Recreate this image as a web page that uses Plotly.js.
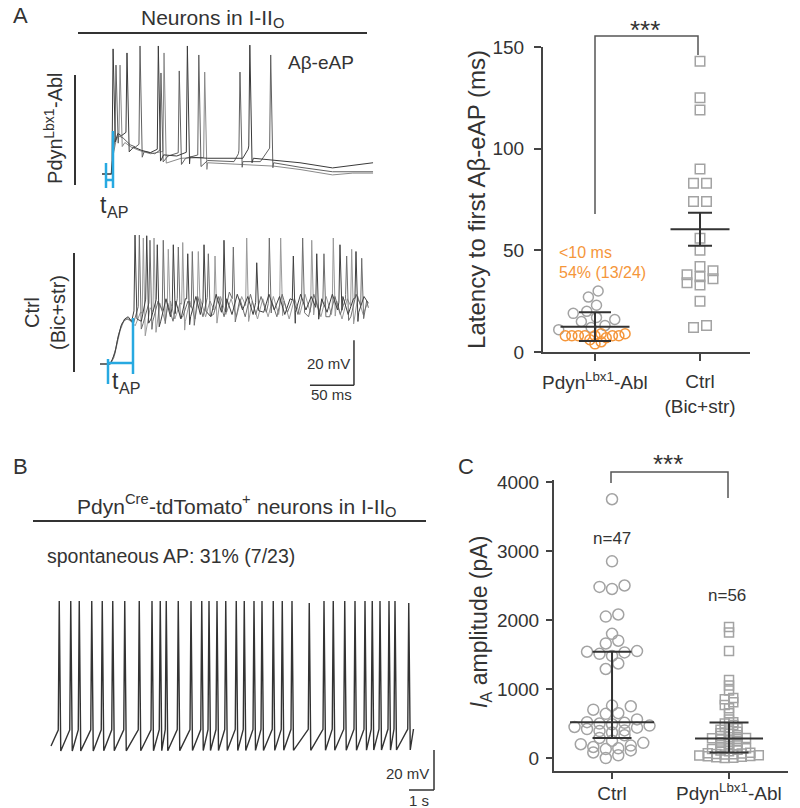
<!DOCTYPE html>
<html>
<head>
<meta charset="utf-8">
<script src="https://cdn.plot.ly/plotly-3.0.1.min.js"></script>
<style>html,body{margin:0;padding:0;background:#fff}#chart{width:800px;height:808px}</style>
</head>
<body>
<div id="chart"></div>
<script>
// ================= DATA =================
// Panel A (right): latency to first Aβ-eAP (ms)
const latencyCategories = ['Pdyn|Lbx1|-Abl', 'Ctrl<br>(Bic+str)'];
const latencyPdynGray = [30, 27, 23, 20, 19, 17, 16, 15, 13, 12, 11];
const latencyPdynOrange = [9, 9, 8, 8, 8, 8, 8, 8, 8, 7, 6, 5, 4];
const latencyCtrl = [143, 125, 119, 90, 83, 83, 74, 74, 56, 50, 42, 40, 38, 36, 33, 34, 37, 25, 12, 13];
const latencyErr = [7.1, 8.1];
const latencyTicks = [0, 50, 100, 150];

// Panel C: I_A amplitude (pA)
const iaCategories = ['Ctrl', 'Pdyn|Lbx1|-Abl'];
const iaCtrl = [3750, 2850, 2500, 2480, 2450, 2080, 2050, 1800, 1700, 1660, 1550, 1540, 1530, 1510, 1480, 1370, 1290,
  760, 750, 700, 650, 640, 560, 520, 510, 500, 490, 470, 450, 440, 420, 400, 390, 370, 330,
  290, 250, 220, 200, 180, 160, 140, 130, 110, 80, 40, 0];
const iaPdyn = [1900, 1820, 1550, 1130, 1050, 980, 870, 850, 810, 770, 720, 650,
  560, 520, 500, 480, 450, 430, 410, 400, 380, 360, 350, 330, 320, 300, 290, 285,
  280, 270, 255, 240, 220, 200, 180, 160, 150, 140, 130, 120, 110, 100,
  75, 70, 65, 60, 55, 50, 40, 35, 30, 25, 20, 10, 5, 0];
const iaTicks = [0, 1000, 2000, 3000, 4000];
const iaN = ['n=47', 'n=56'];

// Panel A traces: Pdyn(Lbx1)-Abl, three sweeps  [ms, mV]
const pdynSweep1Base = [[0,-65],[10.5,-65],[12,-58],[14,-48],[18,-47],[22,-48],[26,-47],[30,-52],[36,-53],[45,-54.5],[55,-55.5],[70,-56.5],[85,-57],[100,-57.5],[120,-58],[150,-58],[160,-58],[166,-54],[172,-58],[195,-59],[225,-60],[262,-62.3],[285,-61],[308,-60]];
const pdynSweep1Spikes = [[12.6,-9.4],[28.4,-11.2],[64,-8.1],[97,-8.1],[168,-7.7]];
const pdynSweep2Base = [[0,-65],[11,-65],[12.5,-57],[15,-50],[19,-48],[24,-49],[32,-52],[38,-53],[48,-55],[60,-56],[75,-57],[95,-58],[120,-59],[150,-59.5],[155,-56],[160,-59.5],[180,-59.5],[189,-54],[195,-60],[225,-62],[262,-64],[285,-64],[308,-64]];
const pdynSweep2Spikes = [[15.9,-16.6],[43.2,-8.1],[67,-20.1],[87.8,-19.2],[110,-12.1],[156.8,-19.7],[191.7,-12.1]];
const pdynSweep3Base = [[0,-65],[11.5,-65],[13,-56],[16,-50],[21,-49],[26,-51],[33,-53],[42,-54.5],[55,-56],[70,-57],[90,-58],[120,-60],[150,-60.5],[195,-61.5],[225,-63],[262,-65.4],[285,-64.6],[308,-64.6]];
const pdynSweep3Spikes = [[20.5,-16.6],[70.5,-11.2],[116.7,-19.7]];

// Panel A traces: Ctrl (Bic+str), three sweeps  [ms, mV]
const ctrlSweep1Base = [[0,-65],[11,-65],[14,-63],[17,-60],[20,-54],[24,-48],[28,-45],[32,-44],[36,-46],[42,-40],[47,-46],[52,-38],[58,-45],[63,-37],[69,-46],[75,-36],[80,-44],[86,-37],[92,-45],[97,-36],[103,-44],[109,-35],[114,-43],[120,-36],[126,-44],[132,-34],[138,-42],[144,-36],[150,-43],[156,-34],[162,-41],[168,-35],[174,-43],[180,-36],[186,-42],[192,-34],[198,-41],[204,-35],[210,-43],[216,-36],[222,-42],[228,-34],[234,-41],[240,-35],[246,-43],[252,-36],[258,-42],[264,-34],[270,-41],[276,-35],[282,-43],[288,-36],[294,-42],[300,-35],[305,-38]];
const ctrlSweep1Spikes = [[39.8,-7.7],[53.1,-8],[65.1,-12],[83.3,-12],[99.7,-16],[118.2,-12],[140.9,-10],[178.1,-20],[219.7,-17],[246.3,-16],[272.7,-12],[290.9,-15]];
const ctrlSweep2Base = [[0,-65],[12,-65],[15,-62],[18,-58],[21,-52],[25,-47],[29,-45],[33,-45],[38,-47],[44,-41],[49,-47],[55,-39],[60,-46],[66,-37],[72,-45],[77,-38],[83,-46],[89,-36],[94,-44],[100,-37],[106,-45],[111,-35],[117,-44],[123,-36],[129,-43],[135,-35],[141,-44],[147,-33],[153,-42],[159,-36],[165,-44],[171,-34],[177,-43],[183,-35],[189,-42],[195,-37],[201,-44],[207,-34],[213,-42],[219,-36],[225,-43],[231,-35],[237,-44],[243,-34],[249,-42],[255,-37],[261,-44],[267,-35],[273,-43],[279,-36],[285,-44],[291,-34],[297,-42],[303,-37],[305,-40]];
const ctrlSweep2Spikes = [[44.7,-7.7],[56.8,-10],[71.9,-10],[89,-13],[104.9,-15],[123.1,-16],[151.5,-13],[192.4,-9],[230.3,-9],[254.5,-16],[280.3,-17],[297.4,-18]];
const ctrlSweep3Base = [[0,-65],[12,-65],[16,-62],[19,-57],[23,-50],[27,-46],[31,-45],[35,-46],[40,-48],[46,-42],[51,-48],[57,-40],[63,-47],[68,-38],[74,-46],[80,-37],[85,-45],[91,-38],[97,-46],[102,-37],[108,-45],[114,-36],[120,-44],[125,-37],[131,-45],[137,-35],[143,-43],[149,-36],[155,-44],[161,-35],[167,-43],[173,-37],[179,-45],[185,-36],[191,-44],[197,-35],[203,-43],[209,-37],[215,-45],[221,-36],[227,-43],[233,-34],[239,-42],[245,-36],[251,-44],[257,-35],[263,-43],[269,-37],[275,-45],[281,-36],[287,-44],[293,-35],[299,-43],[304,-38]];
const ctrlSweep3Spikes = [[49.2,-9],[61.4,-9],[77.6,-14],[94,-11],[111.7,-15],[130.7,-17],[166.7,-9],[205.3,-9],[240.6,-10],[265.1,-9],[286,-14]];

// Panel B: spontaneous AP trace [s, mV]
const bBase = [[0,-60.5],[14.4,-60],[14.5,-52]];
const bSpikeTimes = [0.33,0.79,1.13,1.63,2.05,2.47,2.95,3.53,4.04,4.37,4.61,5.09,5.60,6.03,6.32,6.64,6.99,7.41,7.73,8.12,8.44,8.89,9.25,9.64,10.33,10.92,11.29,11.75,12.16,12.56,12.85,13.16,13.52,13.76,14.31];
const bSpikePeaks = [12,12,12,12,12,12,12,12,12,12,12,12,12,12,12,12,12,12,12,12,12,12,12,12,11,12,12,12,12,12,12,12,12,12,11];

// ================= GEOMETRY HELPERS =================
const W = 800, H = 808;
const X = px => px / W;
const Y = py => 1 - py / H;
const FONT = 'Liberation Sans, Arial, Helvetica, sans-serif';
const INK = '#333333';
const AXC = '#444444';
const GRAY = '#A3A3A3';
const ORANGE = '#F5963A';
const BLUE = '#27A9E1';

const axA = {xPx:[543,750], yPx:[47,352], xRange:[0.505,2.476], yRange:[0,150]};
const axC = {xPx:[554,788], yPx:[480,771], xRange:[0.504,2.504], yRange:[-188,4029]};
const pxPerX = a => (a.xPx[1]-a.xPx[0])/(a.xRange[1]-a.xRange[0]);
const pxPerY = a => (a.yPx[1]-a.yPx[0])/(a.yRange[1]-a.yRange[0]);
const catPx = (a, v) => a.xPx[0] + (v - a.xRange[0]) * pxPerX(a);

function traceAxes(g) {
  return {
    x: {domain:[X(g.xPx[0]), X(g.xPx[1])], range:[(g.xPx[0]-g.t0)/g.pxT, (g.xPx[1]-g.t0)/g.pxT], visible:false, fixedrange:true},
    y: {domain:[Y(g.yPx[1]), Y(g.yPx[0])], range:[g.v0-(g.yPx[1]-g.v0py)/g.pxV, g.v0+(g.v0py-g.yPx[0])/g.pxV], visible:false, fixedrange:true}
  };
}
const gTop  = {xPx:[90,390], yPx:[40,195],  t0:102, pxT:0.88, v0:-65, v0py:174, pxV:2.25};
const gCtrl = {xPx:[90,390], yPx:[225,398], t0:100, pxT:0.88, v0:-65, v0py:364, pxV:2.25};
const gB    = {xPx:[40,450], yPx:[590,800], t0:51,  pxT:25,   v0:-60, v0py:745, pxV:2};

function interp(base, t) {
  if (t <= base[0][0]) return base[0][1];
  for (let i = 1; i < base.length; i++) {
    if (t <= base[i][0]) {
      const [t0,v0] = base[i-1], [t1,v1] = base[i];
      return v0 + (v1-v0)*(t-t0)/(t1-t0);
    }
  }
  return base[base.length-1][1];
}
function spikeLine(base, spikes, rise, fall, preUp, drop) {
  const pts = []; let bi = 0;
  spikes.slice().sort((a,b)=>a[0]-b[0]).forEach(([ts, vp]) => {
    const a = ts - rise, b = ts + fall;
    while (bi < base.length && base[bi][0] < a) { pts.push(base[bi]); bi++; }
    while (bi < base.length && base[bi][0] <= b) bi++;
    pts.push([a, interp(base,a)+preUp], [ts, vp], [b, interp(base,b)-drop]);
  });
  while (bi < base.length) pts.push(base[bi++]);
  return {x: pts.map(p=>p[0]), y: pts.map(p=>p[1])};
}

function rowSwarm(values, pxY, binPx, spacePx) {
  const order = values.map((v,i)=>i).sort((a,b)=>values[a]-values[b]);
  const off = new Array(values.length).fill(0);
  let i = 0;
  while (i < order.length) {
    const start = values[order[i]]; const grp = [];
    while (i < order.length && (values[order[i]]-start)*pxY < binPx) { grp.push(order[i]); i++; }
    const n = grp.length; const slots = [];
    for (let j = 0; j < n; j++) slots.push(j-(n-1)/2);
    slots.sort((a,b)=>Math.abs(a)-Math.abs(b) || a-b);
    grp.forEach((g,k)=>{ off[g] = slots[k]*spacePx; });
  }
  return off;
}
function beeswarm(values, pxY, diams) {
  const order = values.map((v,i)=>i).sort((a,b)=>values[a]-values[b]);
  const placed = [], off = new Array(values.length).fill(0);
  order.forEach(i => {
    const y = values[i]*pxY, di = diams[i];
    const cands = [0];
    placed.forEach(p => {
      const d = (di+p.d)/2, dy = Math.abs(y-p.y);
      if (dy < d) { const dx = Math.sqrt(d*d-dy*dy); cands.push(p.x+dx, p.x-dx); }
    });
    cands.sort((a,b)=>Math.abs(a)-Math.abs(b));
    const best = cands.find(c => placed.every(p => { const d=(di+p.d)/2; return (c-p.x)*(c-p.x)+(y-p.y)*(y-p.y) >= d*d-0.01; }));
    off[i] = best; placed.push({x:best, y:y, d:di});
  });
  return off;
}
function quantile(vals, p) {
  const s = vals.slice().sort((a,b)=>a-b), n = s.length;
  const pos = (n+1)*p, lo = Math.floor(pos), hi = Math.ceil(pos);
  if (lo < 1) return s[0]; if (hi > n) return s[n-1];
  return s[lo-1] + (pos-lo)*(s[hi-1]-s[lo-1]);
}
const mean = v => v.reduce((a,b)=>a+b,0)/v.length;

// ---- rich text (super/subscripts) as separately sized annotations ----
const cv = document.createElement('canvas').getContext('2d');
function textW(t, size, italic) { cv.font = (italic ? 'italic ' : '') + size + 'px "Liberation Sans"'; return cv.measureText(t).width; }
// label spec 'Pdyn|Lbx1|-Abl' : segments alternate normal / superscript
const supSegs = s => s.split('|').map((t,i) => [t, i%2 ? 'sup' : 'n']);
function rich(segs, x, y, size, o) {
  o = o || {};
  const angle = o.angle || 0, anchor = o.anchor || 'center', color = o.color || INK;
  const parts = segs.map(([t,k]) => {
    const s = (k==='sup' || k==='sub') ? size*0.7 : size, it = (k==='i');
    const tr = t.trim();
    const lead = textW(t, s, it) - textW(t.replace(/^\s+/, ''), s, it);
    return {t:tr, k:k, s:s, it:it, w:textW(t, s, it), lead:lead, tw:textW(tr, s, it)};
  });
  const total = parts.reduce((a,p)=>a+p.w, 0);
  let pos = anchor === 'left' ? 0 : anchor === 'right' ? -total : -total/2;
  const out = [];
  parts.forEach(p => {
    const shift = p.k === 'sup' ? -0.31*size : p.k === 'sub' ? 0.29*size : 0;
    const mid = pos + p.lead + p.tw/2;
    const px = angle === 0 ? x + mid : x + shift;
    const py = angle === 0 ? y + shift : y - mid;
    out.push({text:p.t.replace(/</g,'&lt;'), xref:'paper', yref:'paper', x:X(px), y:Y(py), xanchor:'center', yanchor:'middle',
      showarrow:false, textangle:angle, borderpad:0,
      font:{size:p.s, color:color, family:FONT, style:p.it ? 'italic' : 'normal'}});
    pos += p.w;
  });
  return out;
}

// ================= TRACES =================
const data = [];
const lineTrace = (xy, xa, ya, color, w) => ({x:xy.x, y:xy.y, xaxis:xa, yaxis:ya, mode:'lines', line:{color:color, width:w}, hoverinfo:'skip'});

data.push(lineTrace(spikeLine(pdynSweep3Base, pdynSweep3Spikes, 1.2, 2.5, 2, 3), 'x3','y3','#8a8a8a',1));
data.push(lineTrace(spikeLine(pdynSweep2Base, pdynSweep2Spikes, 1.2, 2.5, 2, 3), 'x3','y3','#616161',1));
data.push(lineTrace(spikeLine(pdynSweep1Base, pdynSweep1Spikes, 1.2, 2.5, 2, 3), 'x3','y3','#3a3a3a',1));
data.push(lineTrace(spikeLine(ctrlSweep3Base, ctrlSweep3Spikes, 1.2, 2.2, 2, 5), 'x4','y4','#9a9a9a',1));
data.push(lineTrace(spikeLine(ctrlSweep2Base, ctrlSweep2Spikes, 1.2, 2.2, 2, 5), 'x4','y4','#6e6e6e',1));
data.push(lineTrace(spikeLine(ctrlSweep1Base, ctrlSweep1Spikes, 1.2, 2.2, 2, 5), 'x4','y4','#404040',1));
data.push(lineTrace(spikeLine(bBase, bSpikeTimes.map((t,i)=>[t, bSpikePeaks[i]]), 0.04, 0.06, 8, 2.5), 'x5','y5','#333333',1.4));

// Panel A scatter
const pdynAll = latencyPdynGray.concat(latencyPdynOrange);
const pdynCol = latencyPdynGray.map(()=>GRAY).concat(latencyPdynOrange.map(()=>ORANGE));
const pdynDiam = latencyPdynGray.map(()=>11.5).concat(latencyPdynOrange.map(()=>6.5));
const offP = beeswarm(pdynAll, pxPerY(axA), pdynDiam);
data.push({x: offP.map(o=>1+o/pxPerX(axA)), y: pdynAll, xaxis:'x', yaxis:'y', mode:'markers', cliponaxis:false, hoverinfo:'skip',
  marker:{symbol:'circle-open', size:10, color:pdynCol, line:{width:1.5}}});
const offC = rowSwarm(latencyCtrl, pxPerY(axA), 7, 13);
data.push({x: offC.map(o=>2+o/pxPerX(axA)), y: latencyCtrl, xaxis:'x', yaxis:'y', mode:'markers', cliponaxis:false, hoverinfo:'skip',
  marker:{symbol:'square-open', size:9.5, color:GRAY, line:{width:1.5}}});
const meanBar = (x, y, len, up, down, cap, xa, ya) => ({x:[x], y:[y], xaxis:xa, yaxis:ya, mode:'markers', cliponaxis:false, hoverinfo:'skip',
  marker:{symbol:'line-ew', size:len/1.4, color:INK, line:{color:INK, width:2}},
  error_y:{type:'data', symmetric:false, array:[up], arrayminus:[down], visible:true, color:INK, thickness:2, width:cap}});
data.push(meanBar(1, mean(pdynAll), 69, latencyErr[0], latencyErr[0], 16, 'x','y'));
data.push(meanBar(2, mean(latencyCtrl), 59, latencyErr[1], latencyErr[1], 12, 'x','y'));

// Panel C scatter
const offIC = rowSwarm(iaCtrl, pxPerY(axC), 8, 12.5);
data.push({x: offIC.map(o=>1+o/pxPerX(axC)), y: iaCtrl, xaxis:'x2', yaxis:'y2', mode:'markers', cliponaxis:false, hoverinfo:'skip',
  marker:{symbol:'circle-open', size:11, color:GRAY, line:{width:1.5}}});
const offIP = rowSwarm(iaPdyn, pxPerY(axC), 3, 8.5);
data.push({x: offIP.map(o=>2+o/pxPerX(axC)), y: iaPdyn, xaxis:'x2', yaxis:'y2', mode:'markers', cliponaxis:false, hoverinfo:'skip',
  marker:{symbol:'square-open', size:9, color:GRAY, line:{width:1.5}}});
[[iaCtrl,1,84],[iaPdyn,2,68]].forEach(([v,x,len]) => {
  const med = quantile(v,0.5), q1 = quantile(v,0.25), q3 = quantile(v,0.75);
  data.push(meanBar(x, med, len, q3-med, med-q1, 19.5, 'x2','y2'));
});

// ================= LAYOUT =================
const tA = traceAxes(gTop), tC = traceAxes(gCtrl), tB = traceAxes(gB);
const axisBase = {showline:true, linecolor:AXC, linewidth:2, ticks:'outside', tickwidth:2, tickcolor:AXC,
  showgrid:false, zeroline:false, fixedrange:true, tickfont:{size:19, color:INK, family:FONT}, tickmode:'array'};
const plainTick = s => s.indexOf('|') >= 0 ? '' : s;

const pshape = (x0,y0,x1,y1,color,w) => ({type:'line', xref:'paper', yref:'paper', x0:X(x0), y0:Y(y0), x1:X(x1), y1:Y(y1), line:{color:color, width:w}});
const pathP = (pts, color, w) => ({type:'path', xref:'paper', yref:'paper', path: 'M' + pts.map(p=>X(p[0])+','+Y(p[1])).join(' L'), line:{color:color, width:w}});

const shapes = [
  pshape(78,33,367,33,INK,2),
  pshape(75,75,75,185,INK,2),
  pshape(74,253,74,372,INK,2),
  pshape(113,131,113,188,BLUE,2.5),
  pshape(106,163,106,188,BLUE,2.5),
  pshape(106,180,113,180,BLUE,2.5),
  pshape(133,318,133,374,BLUE,2.5),
  pshape(108,359,108,384,BLUE,2.5),
  pshape(108,363,133,363,BLUE,2.5),
  pshape(33,521,426,521,INK,2),
  pathP([[595,214],[595,36],[698,36],[698,55]], '#555', 1.5),
  pathP([[611,483],[611,472],[728,472],[728,498]], '#555', 1.5),
  {type:'line', xref:'x4', yref:'y4', x0:288.6, x1:288.6, y0:-54.5, y1:-74.5, line:{color:INK, width:1.5}},
  {type:'line', xref:'x4', yref:'y4', x0:238.6, x1:288.6, y0:-74.5, y1:-74.5, line:{color:INK, width:1.5}},
  {type:'line', xref:'x5', yref:'y5', x0:15.32, x1:15.32, y0:-62.5, y1:-82.5, line:{color:INK, width:1.5}},
  {type:'line', xref:'x5', yref:'y5', x0:14.32, x1:15.32, y0:-82.5, y1:-82.5, line:{color:INK, width:1.5}}
];

const ann = (text, x, y, size, opts) => Object.assign({text:text, xref:'paper', yref:'paper', x:X(x), y:Y(y), xanchor:'center', yanchor:'middle',
  showarrow:false, font:{size:size, color:INK, family:FONT}}, opts || {});
let annotations = [
  ann('A', 11, 15, 22, {xanchor:'left'}),
  ann('Aβ-eAP', 321, 63, 19),
  ann('Ctrl<br>(Bic+str)', 45, 313, 20, {textangle:-90}),
  ann('20 mV', 352, 364, 15, {xanchor:'right'}),
  ann('50 ms', 331, 394, 15),
  ann('***', 645, 30, 26),
  ann('&lt;10 ms', 557, 252, 16, {xanchor:'left', font:{size:16, color:ORANGE, family:FONT}}),
  ann('54% (13/24)', 557, 272, 16, {xanchor:'left', font:{size:16, color:ORANGE, family:FONT}}),
  ann('B', 11, 467, 22, {xanchor:'left'}),
  ann('spontaneous AP: 31% (7/23)', 45, 556, 19.5, {xanchor:'left'}),
  ann('20 mV', 431, 773, 15, {xanchor:'right'}),
  ann('1 s', 419, 800, 15),
  ann('C', 466, 467, 22),
  ann('***', 668, 464, 26),
  ann(iaN[0], 612, 538, 17),
  ann(iaN[1], 727, 595, 17)
];
annotations = annotations
  .concat(rich([['Neurons in I-II','n'],['O','sub']], 213, 17, 21))
  .concat(rich(supSegs('Pdyn|Lbx1|-Abl'), 55, 128, 20, {angle:-90}))
  .concat(rich([['t','n'],['AP','sub']], 100, 205, 23, {anchor:'left'}))
  .concat(rich([['t','n'],['AP','sub']], 112, 381, 23, {anchor:'left'}))
  .concat(rich([['Pdyn','n'],['Cre','sup'],['-tdTomato','n'],['+','sup'],[' neurons in I-II','n'],['O','sub']], 237, 506, 21))
  .concat(rich([['I','i'],['A','sub'],[' amplitude (pA)','n']], 479, 622, 23, {angle:-90}))
  .concat(rich(supSegs(latencyCategories[0]), catPx(axA,1), 382, 19))
  .concat(rich(supSegs(iaCategories[1]), catPx(axC,2), 793, 19));

const layout = {
  width:W, height:H, margin:{l:0,r:0,t:0,b:0}, paper_bgcolor:'#ffffff', plot_bgcolor:'rgba(0,0,0,0)',
  showlegend:false, font:{family:FONT, color:INK, size:16},
  xaxis: Object.assign({}, axisBase, {domain:[X(axA.xPx[0]),X(axA.xPx[1])], range:axA.xRange, anchor:'y', ticklen:7,
    tickvals:[1,2], ticktext:latencyCategories.map(plainTick), ticklabelstandoff:4}),
  yaxis: Object.assign({}, axisBase, {domain:[Y(axA.yPx[1]),Y(axA.yPx[0])], range:axA.yRange, anchor:'x', ticklen:7,
    tickvals:latencyTicks, ticktext:latencyTicks.map(String), ticklabelstandoff:6,
    title:{text:'Latency to first Aβ-eAP (ms)', font:{size:24, color:INK, family:FONT}, standoff:0}}),
  xaxis2: Object.assign({}, axisBase, {domain:[X(axC.xPx[0]),X(axC.xPx[1])], range:axC.xRange, anchor:'y2', ticklen:6,
    tickvals:[1,2], ticktext:iaCategories.map(plainTick), ticklabelstandoff:-2}),
  yaxis2: Object.assign({}, axisBase, {domain:[Y(axC.yPx[1]),Y(axC.yPx[0])], range:axC.yRange, anchor:'x2', ticklen:6,
    tickvals:iaTicks, ticktext:iaTicks.map(String), ticklabelstandoff:3}),
  xaxis3: Object.assign({anchor:'y3'}, tA.x), yaxis3: Object.assign({anchor:'x3'}, tA.y),
  xaxis4: Object.assign({anchor:'y4'}, tC.x), yaxis4: Object.assign({anchor:'x4'}, tC.y),
  xaxis5: Object.assign({anchor:'y5'}, tB.x), yaxis5: Object.assign({anchor:'x5'}, tB.y),
  shapes: shapes,
  annotations: annotations
};

Plotly.newPlot('chart', data, layout, {displayModeBar:false, responsive:false});
</script>
</body>
</html>
